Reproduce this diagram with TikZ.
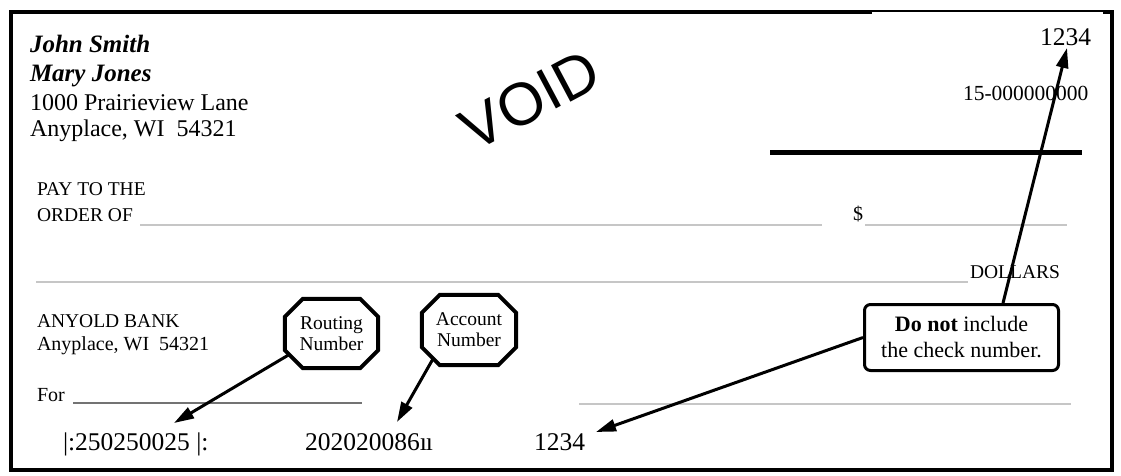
\documentclass[tikz,border=0pt]{standalone}
\usepackage{fontspec}
\setmainfont{Liberation Serif}
\newfontfamily\voidfont{Liberation Sans}
\usetikzlibrary{arrows.meta,calc}
\newcommand\fsz[2]{\fontsize{#1}{#2}\selectfont}
\newcommand\octo[2]{%
  \draw[oct] ([xshift=#2pt]#1.north west) -- ([xshift=-#2pt]#1.north east)
    -- ([yshift=-#2pt]#1.north east) -- ([yshift=#2pt]#1.south east)
    -- ([xshift=-#2pt]#1.south east) -- ([xshift=#2pt]#1.south west)
    -- ([yshift=#2pt]#1.south west) -- ([yshift=-#2pt]#1.north west) -- cycle;}
\begin{document}
\begin{tikzpicture}[x=1pt,y=-1pt,
  txt/.style={anchor=base west, inner sep=0pt, outer sep=0pt},
  rulegray/.style={draw=gray!45, line width=1.4pt},
  ruledark/.style={draw=black!55, line width=1.2pt},
  arr/.style={line width=3pt, -{Triangle[length=20pt,width=12pt]}},
  oct/.style={line width=4pt, line join=miter, fill=white},
  octtext/.style={inner sep=0pt, align=center, font=\fsz{19.5}{21}},
  heavy/.style={line width=4.5pt}]
\fill[white] (0,0) rectangle (1121,475);
\useasboundingbox (0,0) rectangle (1121,475);
% frame
\draw[heavy] (11,12) rectangle (1112,470);
\fill[white] (872,12.4) rectangle (1103,15.5);
\draw[heavy] (770,152.5) -- (1082,152.5);
% owner block
\node[txt, font=\fsz{25}{25}\bfseries\itshape] (n1) at (30,52) {John Smith};
\node[txt, font=\fsz{25}{25}\bfseries\itshape] (n2) at (30,81) {Mary Jones};
\node[txt, font=\fsz{24}{24}] (a1) at (30,110) {1000 Prairieview Lane};
\node[txt, font=\fsz{24}{24}] (a2) at (30,136) {Anyplace, WI\ \ 54321};
% VOID
\node[font=\voidfont\fsz{60}{60}, rotate=28, inner sep=0pt] (void) at (530,100) {VOID};
% top right
\node[txt, font=\fsz{25.5}{25.5}] (num) at (1040,45) {1234};
\node[txt, font=\fsz{21.5}{21.5}] (ck) at (963,100) {15-000000000};
% pay to
\node[txt, font=\fsz{19.5}{19.5}] (p1) at (37,195) {PAY TO THE};
\node[txt, font=\fsz{19.5}{19.5}] (p2) at (37,221) {ORDER OF};
\draw[rulegray] (140,225) -- (822,225);
\node[txt, font=\fsz{20}{20}] (dollar) at (853,220) {\$};
\draw[rulegray] (865,225) -- (1067,225);
\draw[rulegray] (36,282) -- (968,282);
\node[txt, font=\fsz{19.5}{19.5}] (dl) at (970,278) {DOLLARS};
% bank
\node[txt, font=\fsz{19.5}{19.5}] (b1) at (37,327) {ANYOLD BANK};
\node[txt, font=\fsz{20}{20}] (b2) at (37,350) {Anyplace, WI\ \ 54321};
\node[txt, font=\fsz{20}{20}] (for) at (37,401) {For};
\draw[ruledark] (73,403) -- (362,403);
\draw[rulegray] (579,404) -- (1071,404);
% MICR line
\node[txt, font=\fsz{25.5}{25.5}] (micr1) at (63,450) {|:250250025 |:};
\node[txt, font=\fsz{25.5}{25.5}] (micr2) at (305,450) {202020086ı\kern-1ptı};
\node[txt, font=\fsz{25.5}{25.5}] (micr3) at (534,450) {1234};
% callouts
\node[minimum width=93pt, minimum height=69pt, inner sep=0pt] (rt) at (331.5,333.5) {};
\octo{rt}{18}
\node[octtext] (rtl) at (rt.center) {Routing\\Number};
\node[minimum width=94pt, minimum height=70pt, inner sep=0pt] (ac) at (469,330) {};
\octo{ac}{18}
\node[octtext] (acl) at (ac.center) {Account\\Number};
\node[draw, fill=white, line width=3pt, rounded corners=6pt, minimum width=194pt,
      minimum height=66pt, inner sep=0pt, align=center, font=\fsz{22}{26}]
      (box) at (961.5,337.5) {\textbf{Do not} include\\the check number.};
% arrow tips
\coordinate (rtTip) at (174,423);
\coordinate (acTip) at (397,422);
\coordinate (chkTip) at (596,432);
\coordinate (topTip) at (1067,48);
\draw[arr] ($(rt.south west)+(5,-14)$) -- (rtTip);
\draw[arr] ($(ac.south west)+(11,-6)$) -- (acTip);
\draw[arr] (box.west) -- (chkTip);
\draw[arr] ([xshift=41.5pt]box.north) -- (topTip);
\end{tikzpicture}
\end{document}
